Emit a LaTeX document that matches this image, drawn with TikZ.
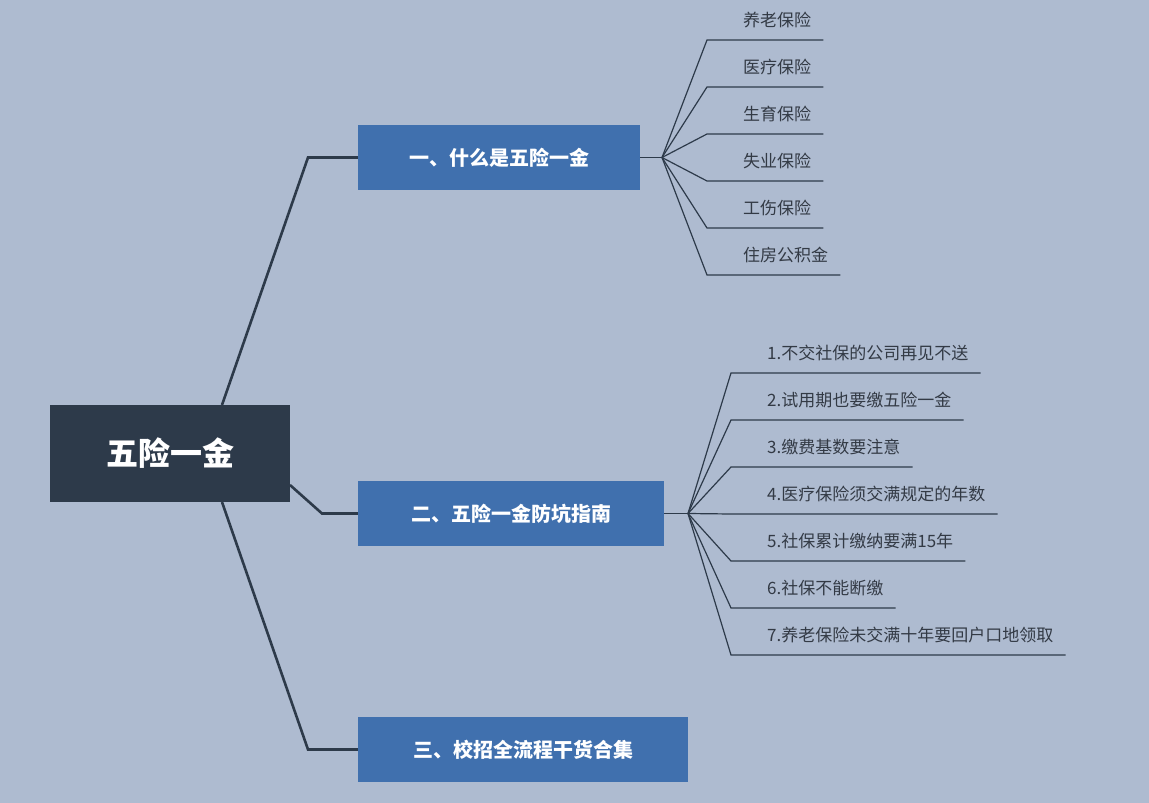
\documentclass[tikz,border=0pt]{standalone}
\usepackage{fontspec}
\setmainfont{Noto Sans CJK SC}
\begin{document}
\begin{tikzpicture}[x=1pt,y=-1pt,
 thick/.style={draw=rootc,line width=2.6pt},
 thin/.style={draw=rootc,line width=1.2pt},
 root/.style={fill=rootc,text=white,font=\fontsize{32}{36}\selectfont\bfseries,minimum width=240pt,minimum height=97pt,inner sep=0},
 br/.style={fill=brc,text=white,font=\fontsize{20}{24}\selectfont\bfseries,minimum height=65pt,inner sep=0},
 leaf/.style={anchor=west,inner sep=0,text=txt,font=\fontsize{17}{20}\selectfont}]
\definecolor{bg}{HTML}{AEBBD0}
\definecolor{rootc}{HTML}{2D3A4A}
\definecolor{brc}{HTML}{4070AE}
\definecolor{txt}{HTML}{333A45}
\fill[bg] (0,0) rectangle (1149,803);
\useasboundingbox (0,0) rectangle (1149,803);
\node[root] (r) at (170,453.5) {五险一金};
\node[br,minimum width=282pt] (b1) at (499,157.5) {一、什么是五险一金};
\node[br,minimum width=306pt] (b2) at (511,513.5) {二、五险一金防坑指南};
\node[br,minimum width=330pt] (b3) at (523,749.5) {三、校招全流程干货合集};
\coordinate (k1) at (308,157.5);\coordinate (k2) at (322,513.5);\coordinate (k3) at (308,749.5);
\draw[thick] (222,405) -- (k1) -- (b1.west);
\draw[thick] (290,485) -- (k2) -- (b2.west);
\draw[thick] (222,502) -- (k3) -- (b3.west);
\coordinate (j1) at (662,157.5);\coordinate (j2) at (688,513.5);
\draw[thin] (b1.east) -- (j1);
\draw[thin] (b2.east) -- (j2);
\foreach \t/\y [count=\i] in {养老保险/40,医疗保险/87,生育保险/134,失业保险/181,工伤保险/228,住房公积金/275}{
 \node[leaf] (a\i) at (743,\y-20) {\t};
 \coordinate (c\i) at (707,\y);
 \draw[thin] (j1) -- (c\i) -- ([xshift=12pt]c\i -| a\i.east);
}
\foreach \t/\y [count=\i] in {1.不交社保的公司再见不送/373,2.试用期也要缴五险一金/420,3.缴费基数要注意/467,4.医疗保险须交满规定的年数/514,5.社保累计缴纳要满15年/561,6.社保不能断缴/608,7.养老保险未交满十年要回户口地领取/655}{
 \node[leaf] (d\i) at (767,\y-20) {\t};
 \coordinate (e\i) at (731,\y);
 \draw[thin] (j2) -- (e\i) -- ([xshift=12pt]e\i -| d\i.east);
}
\end{tikzpicture}
\end{document}
